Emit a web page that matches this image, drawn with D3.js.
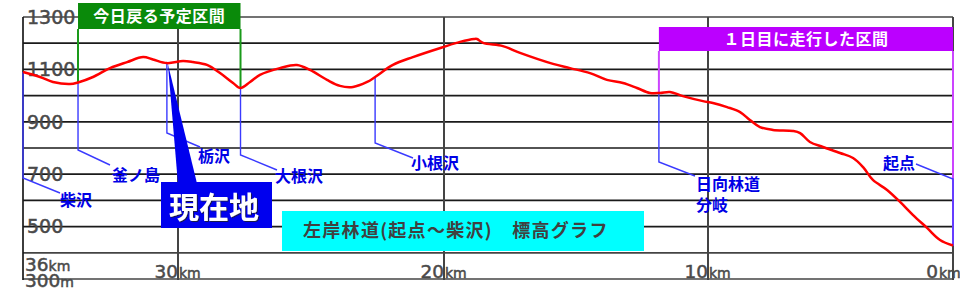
<!DOCTYPE html>
<html>
<head>
<meta charset="utf-8">
<script src="https://cdn.jsdelivr.net/npm/d3@7"></script>
<style>
  body { margin: 0; background: #fff; }
  svg { display: block; }
  .ylab, .xlab { font-family: "DejaVu Sans", sans-serif; fill: #4a4a4a; stroke: #4a4a4a; stroke-width: 0.5; }
  .jp { font-family: "Noto Sans CJK JP", sans-serif; font-weight: bold; }
</style>
</head>
<body>
<svg id="chart" width="960" height="300"></svg>
<script>
// distance from 起点 (km) and elevation (m)
const distKm = [36.0, 35.34, 34.84, 34.18, 33.87, 33.29, 32.63, 31.97, 31.35, 30.97, 30.43,
  29.81, 29.44, 28.91, 28.42, 27.93, 27.65, 27.29, 26.92, 26.17, 25.53, 25.04, 24.40, 23.91,
  23.42, 22.89, 22.59, 21.92, 21.17, 20.04, 19.39, 18.86, 18.75, 18.52, 17.77, 17.12, 15.87,
  15.23, 14.47, 13.83, 13.22, 12.69, 12.20, 11.82, 11.44, 10.95, 10.19, 9.80, 9.22, 8.69,
  8.29, 7.88, 7.35, 6.53, 6.24, 5.84, 5.31, 4.61, 4.08, 3.67, 3.27, 2.69, 2.16, 1.63, 1.06,
  0.53, 0.0];
const elevM = [1090, 1071, 1052, 1044, 1050, 1071, 1105, 1128, 1147, 1138, 1124,
  1132, 1128, 1117, 1086, 1048, 1029, 1052, 1079, 1105, 1117, 1098, 1060, 1037,
  1033, 1052, 1071, 1117, 1147, 1185, 1205, 1216, 1216, 1201, 1189, 1163, 1121,
  1105, 1086, 1060, 1048, 1029, 1010, 1010, 1014, 998, 979, 972, 956, 937,
  907, 880, 869, 865, 857, 823, 804, 781, 762, 727, 678, 640, 594, 544, 495,
  449, 428];

const yGrid = [1300, 1200, 1100, 1000, 900, 800, 700, 600, 500, 400, 300];
const yLabels = [1300, 1100, 900, 700, 500];
const xTicks = [30, 20, 10, 0];

const placeNames = [["柴沢"], ["釜ノ島"], ["栃沢"], ["大根沢"], ["小根沢"], ["日向林道", "分岐"], ["起点"]];
const placeKm = [36, 33.87, 30.43, 27.65, 22.59, 11.86, 0];

const sectionNames = ["今日戻る予定区間", "１日目に走行した区間"];
const sectionFrom = [33.87, 11.86];
const sectionTo = [27.65, 0];

const currentKm = 30.43;
const currentLabel = "現在地";
const title = "左岸林道(起点～柴沢)　標高グラフ";

// layout for the leaders: elbow y, end point, label anchor
const leaderLayout = [
  { elbow: 178, ex: 60, ey: 193, lx: 60, ly: 200, anchor: "start" },
  { elbow: 150, ex: 110, ey: 165, lx: 112, ly: 175, anchor: "start" },
  { elbow: 133, ex: 200, ey: 147, lx: 198, ly: 156, anchor: "start" },
  { elbow: 155, ex: 277, ey: 170, lx: 275, ly: 176, anchor: "start" },
  { elbow: 143, ex: 413, ey: 158, lx: 411, ly: 163, anchor: "start" },
  { elbow: 162, ex: 695, ey: 176, lx: 696, ly: 184, anchor: "start" },
  { elbow: 179, ex: 916, ey: 164, lx: 915, ly: 163, anchor: "end" }
];
const sectionLayout = [
  { top: 3, h: 26, fill: "#0a8a0a", line: "#1a9a1a" },
  { top: 27, h: 24, fill: "#bb00ff", line: "#cc44ff" }
];

const svg = d3.select("#chart");
const x = d3.scaleLinear().domain([36, 30, 20, 10, 0]).range([23, 178, 444, 708, 953]);
const y = d3.scaleLinear().domain([300, 1300]).range([279, 17]);

const data = distKm.map((d, i) => ({ km: d, m: elevM[i] }));
const bis = d3.bisector(d => -d.km).left;
function elevAt(km) {
  const i = bis(data, -km);
  if (i <= 0) return data[0].m;
  if (i >= data.length) return data[data.length - 1].m;
  const a = data[i - 1], b = data[i];
  const t = (km - a.km) / (b.km - a.km);
  return a.m + t * (b.m - a.m);
}

// grid
svg.append("g").selectAll("line").data(yGrid).join("line")
  .attr("x1", x(36)).attr("x2", x(0))
  .attr("y1", d => y(d)).attr("y2", d => y(d))
  .attr("stroke", d => (d == 1300 || d <= 400) ? "#444" : "#1a1a1a")
  .attr("stroke-width", 1.7);

svg.append("g").selectAll("line").data(xTicks).join("line")
  .attr("x1", d => x(d)).attr("x2", d => x(d))
  .attr("y1", y(1300)).attr("y2", y(300) + 1)
  .attr("stroke", "#444").attr("stroke-width", 2);
svg.append("line").attr("x1", x(36)).attr("x2", x(36))
  .attr("y1", y(1300)).attr("y2", y(300) + 1)
  .attr("stroke", "#1a1a1a").attr("stroke-width", 1.7);

// y labels
svg.append("g").selectAll("text").data(yLabels).join("text")
  .attr("class", "ylab")
  .attr("x", 27).attr("y", d => y(d)).attr("dy", "0.36em")
  .attr("font-size", 19)
  .text(d => d);
const l300 = svg.append("text").attr("class", "ylab")
  .attr("x", 25).attr("y", y(300) + 8).attr("font-size", 18.5);
l300.append("tspan").text("300");
l300.append("tspan").attr("font-size", 14).text("m");

// x labels
const l36 = svg.append("text").attr("class", "xlab")
  .attr("x", 25).attr("y", 271).attr("font-size", 18.5);
l36.append("tspan").text("36");
l36.append("tspan").attr("font-size", 14).text("km");

const xl = svg.append("g").selectAll("g").data(xTicks).join("g")
  .attr("transform", d => `translate(${Math.min(x(d), 938)},278)`);
xl.append("text").attr("class", "xlab").attr("text-anchor", "end")
  .attr("font-size", 18.5).text(d => d);
xl.append("text").attr("class", "xlab").attr("x", 1)
  .attr("font-size", 14).attr("stroke-width", 0.3).text("km");

// section brackets
sectionNames.forEach((name, i) => {
  const L = sectionLayout[i];
  const x0 = x(sectionFrom[i]), x1 = x(sectionTo[i]);
  const g = svg.append("g");
  [sectionFrom[i], sectionTo[i]].forEach(k => {
    g.append("line")
      .attr("x1", x(k)).attr("x2", x(k))
      .attr("y1", L.top + L.h).attr("y2", y(elevAt(k)))
      .attr("stroke", L.line).attr("stroke-width", 2);
  });
  g.append("rect").attr("x", x0).attr("y", L.top)
    .attr("width", x1 - x0).attr("height", L.h)
    .attr("fill", L.fill);
  g.append("text").attr("class", "jp")
    .attr("x", (x0 + x1) / 2).attr("y", L.top + L.h / 2).attr("dy", "0.36em")
    .attr("text-anchor", "middle").attr("fill", "#fff").attr("font-size", 16)
    .attr("letter-spacing", 0.5)
    .text(name);
});

// leaders and place names
placeNames.forEach((lines, i) => {
  const L = leaderLayout[i];
  const px = x(placeKm[i]);
  const py = y(elevAt(placeKm[i]));
  svg.append("path")
    .attr("d", d3.line()([[px, py], [px, L.elbow], [L.ex, L.ey]]))
    .attr("fill", "none").attr("stroke", "#3a3aff").attr("stroke-width", 1.4);
  const t = svg.append("text").attr("class", "jp")
    .attr("x", L.lx).attr("y", L.ly)
    .attr("text-anchor", L.anchor).attr("fill", "#0000e6").attr("font-size", 16);
  lines.forEach((s, j) => {
    t.append("tspan").attr("x", L.lx).attr("dy", j == 0 ? "0.36em" : "1.3em").text(s);
  });
});

// elevation line
svg.append("path").datum(data)
  .attr("d", d3.line().x(d => x(d.km)).y(d => y(d.m)).curve(d3.curveCatmullRom.alpha(0.5)))
  .attr("fill", "none").attr("stroke", "#ff0000").attr("stroke-width", 2.5);

// 現在地 callout
const cx = x(currentKm), cy = y(elevAt(currentKm));
svg.append("path")
  .attr("d", d3.line()([[cx + 1, cy + 1], [cx + 11, 183], [cx + 30, 183]]) + "Z")
  .attr("fill", "#0000ee");
svg.append("rect").attr("x", 161).attr("y", 182).attr("width", 111).attr("height", 46)
  .attr("fill", "#0000ee");
const defs = svg.append("defs");
defs.append("filter").attr("id", "sh")
  .append("feDropShadow").attr("dx", 1).attr("dy", 1).attr("stdDeviation", 0.5)
  .attr("flood-color", "#222").attr("flood-opacity", 0.8);
svg.append("text").attr("class", "jp")
  .attr("x", 214).attr("y", 207).attr("dy", "0.36em")
  .attr("text-anchor", "middle").attr("fill", "#fff").attr("font-size", 30)
  .attr("filter", "url(#sh)")
  .text(currentLabel);

// title box
svg.append("rect").attr("x", 282).attr("y", 211).attr("width", 362).attr("height", 40)
  .attr("fill", "#00ffff");
svg.append("text").attr("class", "jp")
  .attr("x", 303).attr("y", 231).attr("dy", "0.36em")
  .attr("fill", "#404040").attr("font-size", 18).attr("letter-spacing", 1.3)
  .text(title);
</script>
</body>
</html>
